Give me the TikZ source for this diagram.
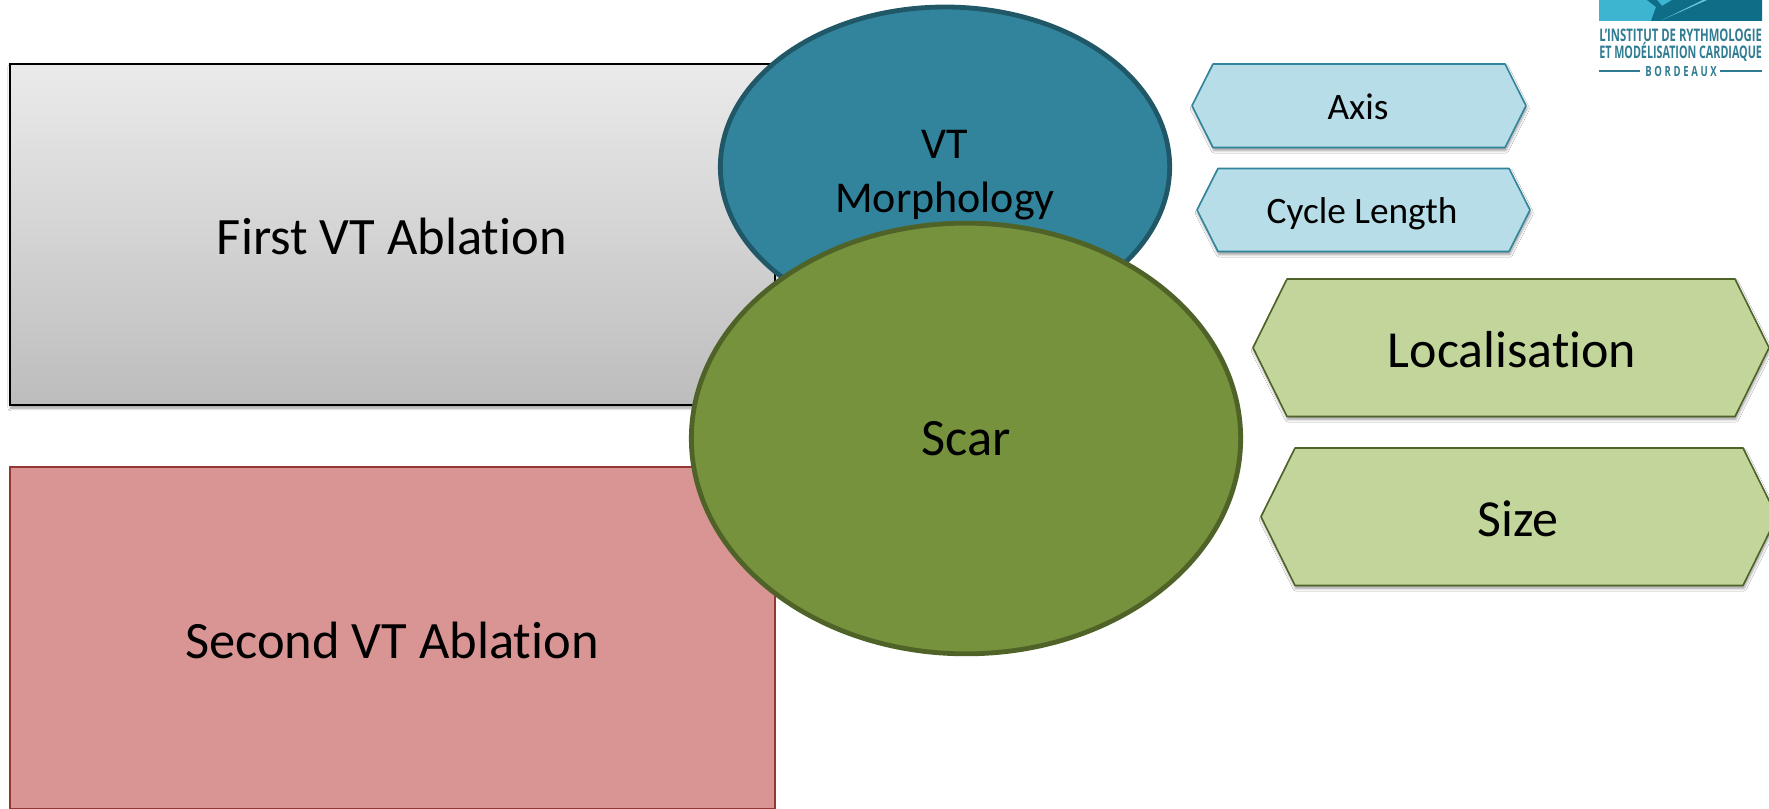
\documentclass[tikz,border=0pt]{standalone}
\usepackage{fontspec}
\setmainfont[Ligatures=NoCommon]{Carlito}
\newfontfamily\logofont{Open Sans}
\usetikzlibrary{shapes.geometric,shadows.blur}
\definecolor{bluefill}{HTML}{31849B}
\definecolor{blueline}{HTML}{215868}
\definecolor{greenfill}{HTML}{76923C}
\definecolor{greenline}{HTML}{4F6228}
\definecolor{hexblue}{HTML}{B7DDE8}
\definecolor{hexgreen}{HTML}{C2D69B}
\definecolor{redfill}{HTML}{D99594}
\definecolor{redline}{HTML}{943634}
\definecolor{logolight}{HTML}{3DB5D0}
\definecolor{logodark}{HTML}{0F6E87}
\definecolor{logotext}{HTML}{2F7C93}
\tikzset{
  softshadow/.style={blur shadow={shadow blur steps=6,shadow xshift=0.6pt,shadow yshift=-2.2pt,shadow blur radius=2pt,shadow opacity=40}},
  boxlabel/.style={font=\fontsize{39.4}{44}\selectfont,text=black,align=center},
  ovallabel/.style={font=\fontsize{33}{40}\selectfont,text=black,align=center},
  oval/.style={ellipse,inner sep=0pt,line width=3.6pt},
  firstbox/.style={rectangle,draw=black,line width=1.3pt,top color=black!8,bottom color=black!26,softshadow,minimum width=574pt,minimum height=256pt,inner sep=0pt},
  secondbox/.style={rectangle,draw=redline,line width=1.3pt,fill=redfill,minimum width=574pt,minimum height=257pt,inner sep=0pt},
  hexB/.style={draw=bluefill,line width=1.2pt,fill=hexblue,line join=round,softshadow},
  hexG/.style={draw=greenline,line width=1.2pt,fill=hexgreen,line join=round,softshadow},
  smalllabel/.style={font=\fontsize{28}{32}\selectfont,text=black},
  biglabel/.style={font=\fontsize{39}{44}\selectfont,text=black},
  logotxt/.style={text=logotext,font=\logofont\bfseries,inner sep=0pt}
}
\newcommand{\hexagonpath}[6][]{% style; x1 x2 y1 y2 inset
  \path[#1] (#2+#6,#4) -- (#3-#6,#4) -- (#3,{(#4+#5)/2}) -- (#3-#6,#5) -- (#2+#6,#5) -- (#2,{(#4+#5)/2}) -- cycle;}
\newcommand{\nl}[1]{\scalebox{0.68}[1]{#1}\hspace{2pt}}
\begin{document}
\begin{tikzpicture}[x=0.75pt,y=-0.75pt]
\useasboundingbox (0,0) rectangle (1769,809);
\clip (0,0) rectangle (1769,809);
\fill[white] (0,0) rectangle (1769,809);

% logo
\fill[logolight] (1599,0) rectangle (1762,21);
\fill[logodark] (1651,21) -- (1656,7) -- (1647,0) -- (1657,0) -- (1662,6) -- (1672,0) -- (1762,0) -- (1762,21) -- cycle;
\fill[logolight!75!white] (1662,20) -- (1703,0) -- (1707,0) -- cycle;
\node[logotxt,anchor=west] (logoa) at (1599,35.5) {\resizebox{122pt}{\height}{\fontsize{13}{14}\selectfont L’INSTITUT DE RYTHMOLOGIE}};
\node[logotxt,anchor=base west] (logob) at (1599,59) {\resizebox{122pt}{\height}{\fontsize{13}{14}\selectfont ET MODÉLISATION CARDIAQUE}};
\node[logotxt] (logoc) at (1681,71) {\fontsize{10.5}{11}\selectfont \nl{B}\nl{O}\nl{R}\nl{D}\nl{E}\nl{A}\nl{U}\scalebox{0.68}[1]{X}};
\draw[logotext,line width=0.9pt] (1599,71) -- (1640,71);
\draw[logotext,line width=0.9pt] (1720,71) -- (1762,71);

% boxes
\node[firstbox] (first) at (392.5,234.5) {};
\node[boxlabel] (firstt) at (392,236) {First VT Ablation};
\node[secondbox] (second) at (392.5,638) {};
\node[boxlabel] (secondt) at (392,640) {Second VT Ablation};

% ovals
\node[oval,draw=blueline,fill=bluefill,minimum width=337pt,minimum height=240pt] (vt) at (945,167) {};
\node[ovallabel] (vtt) at (945,175) {VT\\Morphology};
\node[oval,draw=greenline,fill=greenfill,minimum width=412pt,minimum height=323pt] (scar) at (966,438.5) {};
\node[boxlabel] (scart) at (966,439) {Scar};

% hexagons
\hexagonpath[hexB]{1192}{1526}{64}{147.5}{21}
\node[smalllabel] (axis) at (1358,107) {Axis};
\hexagonpath[hexB]{1197}{1530}{168.5}{251.5}{21}
\node[smalllabel] (cycle) at (1362,214) {Cycle Length};
\hexagonpath[hexG]{1253}{1769}{279}{416.5}{34}
\node[biglabel] (loc) at (1512,350) {Localisation};
\hexagonpath[hexG]{1261}{1777}{448}{585.5}{34}
\node[biglabel] (size) at (1518,519) {Size};
\end{tikzpicture}
\end{document}
